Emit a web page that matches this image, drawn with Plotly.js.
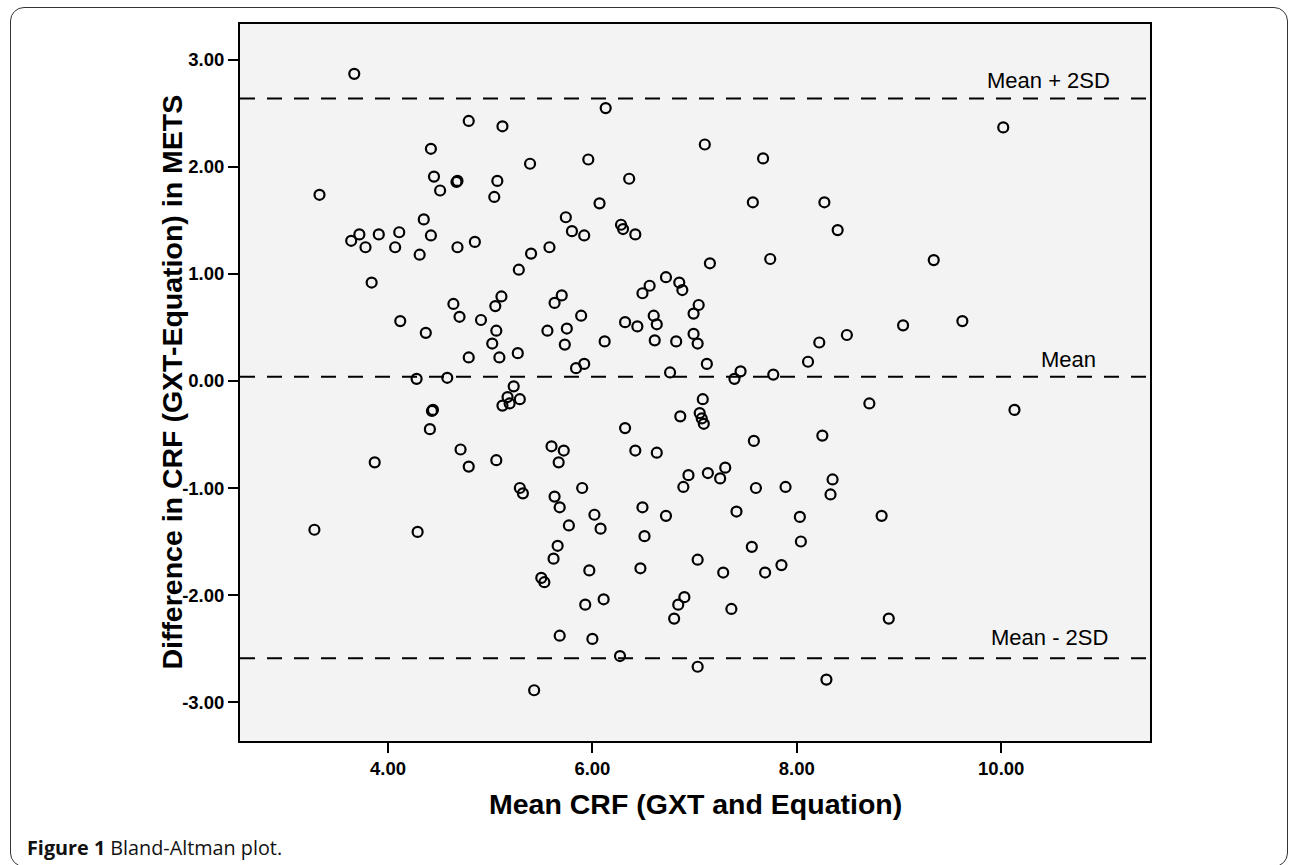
<!DOCTYPE html>
<html>
<head>
<meta charset="utf-8">
<script src="https://cdn.plot.ly/plotly-3.0.1.min.js"></script>
<style>
  html, body { margin: 0; padding: 0; background: #ffffff; }
  #wrap { position: relative; width: 1290px; height: 865px; overflow: hidden; }
  #chart { position: absolute; left: 0; top: 0; width: 1290px; height: 865px; }
  #frame { position: absolute; left: 10px; top: 7px; width: 1278px; height: 860px; box-sizing: border-box;
           border: 1.5px solid #333; border-radius: 14px; pointer-events: none; }
</style>
</head>
<body>
<div id="wrap">
  <div id="chart"></div>
  <div id="frame"></div>
</div>
<script>
// Mean CRF (GXT and Equation)
const meanCRF = [
  3.67, 4.79, 5.12, 4.42, 4.45, 4.67, 4.68, 4.51, 5.07, 5.04, 3.33, 4.35, 3.72, 3.64, 3.78, 3.91, 4.11, 4.07,
  4.42, 4.31, 4.68, 4.85, 3.84, 5.11, 5.05, 4.64, 4.70, 4.91, 5.06, 5.02, 4.12, 4.37, 4.79, 5.09, 4.28, 4.58,
  6.13, 7.10, 5.39, 5.96, 6.36, 6.07, 5.74, 5.80, 5.92, 6.28, 6.30, 6.42, 5.58, 5.40, 5.28, 7.15, 6.72, 6.56,
  6.49, 6.85, 6.88, 7.04, 6.99, 5.70, 5.63, 5.89, 5.27, 5.56, 5.75, 5.73, 6.12, 6.32, 6.44, 6.60, 6.63, 6.61,
  6.82, 6.99, 7.03, 7.12, 5.92, 5.84, 6.76,
  10.02, 7.67, 7.57, 8.27, 8.40, 7.74, 9.34, 9.62, 9.04, 8.49, 8.22, 8.11, 7.39, 7.45, 7.77,
  4.43, 4.44, 4.41, 4.71, 4.79, 5.06, 3.87, 3.28, 4.29,
  5.23, 5.17, 5.29, 5.19, 5.12, 7.08, 6.86, 7.05, 7.07, 7.09, 6.32, 5.60, 5.72, 5.67, 6.42, 6.63, 6.94, 6.89,
  7.13, 7.30, 7.25, 5.29, 5.32, 5.63, 5.68, 5.90, 6.02, 6.08, 5.77, 6.49, 6.72, 6.51, 5.66, 5.62, 5.97, 6.47,
  7.03, 7.28, 5.50, 5.53, 5.93, 6.11, 6.90, 6.84, 6.80, 5.68, 6.00, 6.27, 7.03, 5.43,
  8.71, 10.13, 7.58, 8.25, 7.60, 7.89, 8.35, 8.33, 7.41, 8.03, 8.83, 8.04, 7.56, 7.69, 7.85, 7.36, 8.90, 8.29
];
// Difference in CRF (GXT-Equation) in METS
const diffCRF = [
  2.87, 2.43, 2.38, 2.17, 1.91, 1.86, 1.87, 1.78, 1.87, 1.72, 1.74, 1.51, 1.37, 1.31, 1.25, 1.37, 1.39, 1.25,
  1.36, 1.18, 1.25, 1.30, 0.92, 0.79, 0.70, 0.72, 0.60, 0.57, 0.47, 0.35, 0.56, 0.45, 0.22, 0.22, 0.02, 0.03,
  2.55, 2.21, 2.03, 2.07, 1.89, 1.66, 1.53, 1.40, 1.36, 1.46, 1.42, 1.37, 1.25, 1.19, 1.04, 1.10, 0.97, 0.89,
  0.82, 0.92, 0.85, 0.71, 0.63, 0.80, 0.73, 0.61, 0.26, 0.47, 0.49, 0.34, 0.37, 0.55, 0.51, 0.61, 0.53, 0.38,
  0.37, 0.44, 0.35, 0.16, 0.16, 0.12, 0.08,
  2.37, 2.08, 1.67, 1.67, 1.41, 1.14, 1.13, 0.56, 0.52, 0.43, 0.36, 0.18, 0.02, 0.09, 0.06,
  -0.28, -0.27, -0.45, -0.64, -0.80, -0.74, -0.76, -1.39, -1.41,
  -0.05, -0.15, -0.17, -0.21, -0.23, -0.17, -0.33, -0.30, -0.35, -0.40, -0.44, -0.61, -0.65, -0.76, -0.65, -0.67, -0.88, -0.99,
  -0.86, -0.81, -0.91, -1.00, -1.05, -1.08, -1.18, -1.00, -1.25, -1.38, -1.35, -1.18, -1.26, -1.45, -1.54, -1.66, -1.77, -1.75,
  -1.67, -1.79, -1.84, -1.88, -2.09, -2.04, -2.02, -2.09, -2.22, -2.38, -2.41, -2.57, -2.67, -2.89,
  -0.21, -0.27, -0.56, -0.51, -1.00, -0.99, -0.92, -1.06, -1.22, -1.27, -1.26, -1.50, -1.55, -1.79, -1.72, -2.13, -2.22, -2.79
];
// Reference lines
const refLabels = ["Mean + 2SD", "Mean", "Mean - 2SD"];
const refValues = [2.64, 0.04, -2.59];
const xTicks = [4, 6, 8, 10];
const xTickLabels = ["4.00", "6.00", "8.00", "10.00"];
const yTicks = [-3, -2, -1, 0, 1, 2, 3];
const yTickLabels = ["-3.00", "-2.00", "-1.00", "0.00", "1.00", "2.00", "3.00"];

const axisFont = {family: "Liberation Sans, Arial, sans-serif", size: 18.5, color: "#000", weight: "bold"};

const trace = {
  type: "scatter", mode: "markers", x: meanCRF, y: diffCRF,
  marker: {symbol: "circle-open", size: 10, color: "#000", line: {width: 2.2, color: "#000"}},
  hoverinfo: "none", showlegend: false
};

const shapes = refValues.map(v => ({
  type: "line", xref: "paper", x0: 0, x1: 1, yref: "y", y0: v, y1: v,
  line: {color: "#000", width: 2, dash: "15px,12px"}
}));

const labelFont = {family: "Liberation Sans, Arial, sans-serif", size: 22, color: "#000"};
const titleFont = {family: "Liberation Sans, Arial, sans-serif", size: 28.5, color: "#000", weight: "bold"};
const annotations = [
  {text: refLabels[0], x: 11.084, y: 2.81, xref: "x", yref: "y", xanchor: "right", yanchor: "middle", showarrow: false, font: labelFont},
  {text: refLabels[1], x: 10.654, y: 0.20, xref: "x", yref: "y", xanchor: "center", yanchor: "middle", showarrow: false, font: labelFont},
  {text: refLabels[2], x: 11.065, y: -2.40, xref: "x", yref: "y", xanchor: "right", yanchor: "middle", showarrow: false, font: labelFont},
  {text: "Mean CRF (GXT and Equation)", xref: "paper", yref: "paper", x: 0.5, y: -0.088, xanchor: "center", yanchor: "middle",
   showarrow: false, font: titleFont},
  {text: "Difference in CRF (GXT-Equation) in METS", xref: "paper", yref: "paper", x: -0.0757, y: 0.5, xanchor: "center", yanchor: "middle",
   textangle: -90, showarrow: false, font: titleFont},
  {text: "<b>Figure 1</b> Bland-Altman plot.", xref: "paper", yref: "paper", x: -0.236, y: -0.1492, xanchor: "left", yanchor: "middle",
   showarrow: false, font: {family: "Open Sans, Noto Sans, sans-serif", size: 19.8, color: "#111"}}
];

const layout = {
  width: 1290, height: 865,
  margin: {l: 240, r: 140, t: 24, b: 124, pad: 0},
  paper_bgcolor: "#ffffff", plot_bgcolor: "#f3f3f3",
  showlegend: false,
  xaxis: {
    range: [2.552, 11.456], tickvals: xTicks, ticktext: xTickLabels,
    ticks: "outside", ticklen: 10, tickwidth: 2, tickcolor: "#000",
    showline: true, linewidth: 2, linecolor: "#000", mirror: true,
    showgrid: false, zeroline: false, tickfont: axisFont, fixedrange: true
  },
  yaxis: {
    range: [-3.364, 3.336], tickvals: yTicks, ticktext: yTickLabels,
    ticks: "outside", ticklen: 10, tickwidth: 2, tickcolor: "#000",
    showline: true, linewidth: 2, linecolor: "#000", mirror: true,
    showgrid: false, zeroline: false, tickfont: axisFont, fixedrange: true
  },
  shapes: shapes,
  annotations: annotations
};

Plotly.newPlot("chart", [trace], layout, {displayModeBar: false, staticPlot: true});
</script>
</body>
</html>
